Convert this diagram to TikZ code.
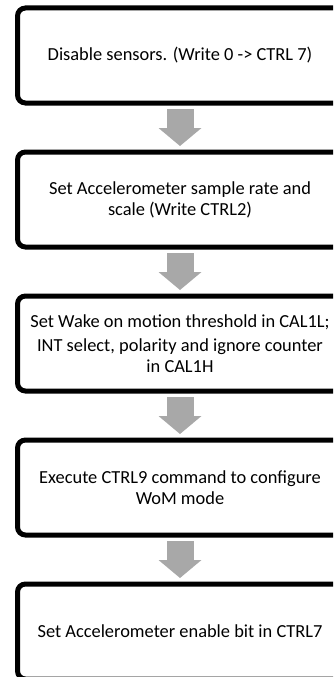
\documentclass[tikz,border=0pt]{standalone}
\usepackage{fontspec}
\setmainfont{Carlito}
\usetikzlibrary{positioning,arrows.meta}

\begin{document}
\begin{tikzpicture}[x=1pt,y=-1pt]
\tikzset{stepbox/.style={draw=black,fill=white,line width=5pt,rounded corners=8pt,
	minimum width=325pt,minimum height=95pt,align=center,
	font=\fontsize{18.4}{21}\selectfont},
	flowarrow/.style={draw=gray!68,line width=27pt,shorten <=3.5pt,shorten >=3.5pt,
	-{Triangle[width=43pt,length=18pt,line width=0pt]}}}
\useasboundingbox (0,0) rectangle (333,677);
\clip (0,0) rectangle (333,677);

\node[stepbox] (s1) at (180,55.5) {Disable sensors. (Write 0 -> CTRL 7)};
\node[stepbox,below=44pt of s1] (s2) {Set Accelerometer sample rate and\\scale (Write CTRL2)};
\node[stepbox,below=44pt of s2] (s3) {Set Wake on motion threshold in CAL1L;\\[3pt]INT select, polarity and ignore counter\\in CAL1H};
\node[stepbox,below=44pt of s3] (s4) {Execute CTRL9 command to configure\\WoM mode};
\node[stepbox,below=44pt of s4] (s5) {Set Accelerometer enable bit in CTRL7};

\foreach \a/\b in {s1/s2,s2/s3,s3/s4,s4/s5}{%
	\draw[flowarrow] (\a) -- (\b);
}%
\end{tikzpicture}
\end{document}
